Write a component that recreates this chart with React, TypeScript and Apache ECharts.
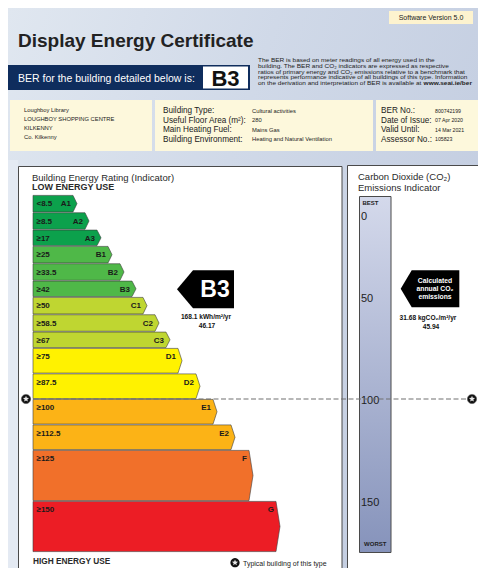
import React, { useEffect, useRef } from 'react';
import * as echarts from 'echarts';

const FONT = '"Liberation Sans", Arial, "DejaVu Sans", sans-serif';

// ---- Data ----
const bandNames = ['A1', 'A2', 'A3', 'B1', 'B2', 'B3', 'C1', 'C2', 'C3', 'D1', 'D2', 'E1', 'E2', 'F', 'G'];
const bandLower = [0, 8.5, 17, 25, 33.5, 42, 50, 58.5, 67, 75, 87.5, 100, 112.5, 125, 150];
const bandUpper = [8.5, 17, 25, 33.5, 42, 50, 58.5, 67, 75, 87.5, 100, 112.5, 125, 150, 175];
const bandLabels = ['<8.5', '≥8.5', '≥17', '≥25', '≥33.5', '≥42', '≥50', '≥58.5', '≥67', '≥75', '≥87.5', '≥100', '≥112.5', '≥125', '≥150'];
const bandLength = [40, 52, 64, 75, 87, 99, 110, 122, 133, 145, 163, 180, 198, 216, 243];
const bandColors = [
  '#0ca14c', '#0ca14c', '#0ca14c',
  '#4fb848', '#4fb848', '#4fb848',
  '#bfd631', '#bfd631', '#bfd631',
  '#fff200', '#fff200',
  '#fcb316', '#fcb316',
  '#f1702a', '#ec1d25',
];

const berRating = 'B3';
const berValue = 46.17;
const berEnergy = '168.1 kWh/m²/yr';
const co2Value = 45.94;
const co2Emission = '31.68 kgCO₂/m²/yr';
const typicalValue = 100;
const co2Ticks = [0, 50, 100, 150];
const scaleMax = 175;

const addressLines = ['Loughboy Library', 'LOUGHBOY SHOPPING CENTRE', 'KILKENNY', 'Co. Kilkenny'];
const buildingLabels = ['Building Type:', 'Useful Floor Area (m²):', 'Main Heating Fuel:', 'Building Environment:'];
const buildingValues = ['Cultural activities', '280', 'Mains Gas', 'Heating and Natural Ventilation'];
const certLabels = ['BER No.:', 'Date of Issue:', 'Valid Until:', 'Assessor No.:'];
const certValues = ['800742199', '07 Apr 2020', '14 Mar 2021', '105823'];
const blurbLines = [
  'The BER is based on meter readings of all energy used in the',
  'building. The BER and CO₂ indicators are expressed as respective',
  'ratios of primary energy and CO₂ emissions relative to a benchmark that',
  'represents performance indicative of all buildings of this type. Information',
  'on the derivation and interpretation of BER is available at {b|www.seai.ie/ber}',
];

function starPoints(cx: number, cy: number, ro: number, ri: number) {
  const pts: number[][] = [];
  for (let k = 0; k < 10; k++) {
    const r = k % 2 === 0 ? ro : ri;
    const a = -Math.PI / 2 + (k * Math.PI) / 5;
    pts.push([cx + r * Math.cos(a), cy + r * Math.sin(a)]);
  }
  return pts;
}

function starMarker(cx: number, cy: number) {
  return [
    { type: 'circle', shape: { cx, cy, r: 4.6 }, style: { fill: '#111', stroke: '#555', lineWidth: 0.6 } },
    { type: 'polygon', shape: { points: starPoints(cx, cy, 3.2, 1.4) }, style: { fill: '#e8e8e8' } },
  ];
}

function txt(x: number, y: number, text: string, font: string, fill = '#222', align = 'left', extra: any = {}) {
  return {
    type: 'text',
    z: 1,
    style: { text, x, y, font, fill, textAlign: align, textVerticalAlign: 'middle', ...extra },
  };
}

export default function App() {
  const ref = useRef<HTMLDivElement>(null);
  useEffect(() => {
    const chart = echarts.init(ref.current!, null, { renderer: 'svg' });

    const graphic: any[] = [];
    graphic.push({
      type: 'rect', z: 0,
      shape: { x: 8, y: 8, width: 470, height: 560 },
      style: {
        fill: new echarts.graphic.LinearGradient(0, 0, 1, 0.4, [
          { offset: 0, color: '#e0e7f0' },
          { offset: 0.5, color: '#d0d9e8' },
          { offset: 1, color: '#c4cee1' },
        ]),
      },
    });
    graphic.push({ type: 'rect', z: 0, shape: { x: 8, y: 160, width: 10, height: 408 }, style: { fill: '#e4eaf3' } });
    // software version
    graphic.push({ type: 'rect', z: 1, shape: { x: 389, y: 11, width: 84, height: 13 }, style: { fill: '#fdf3cf' } });
    graphic.push(txt(431, 17.5, 'Software Version 5.0', `7px ${FONT}`, '#222', 'center'));
    // title
    graphic.push(txt(18, 40, 'Display Energy Certificate', `bold 19px ${FONT}`, '#222'));
    // navy bar
    graphic.push({ type: 'rect', z: 1, shape: { x: 8, y: 65, width: 242, height: 25 }, style: { fill: '#0f2d5d' } });
    graphic.push({ type: 'rect', z: 1, shape: { x: 203, y: 66.5, width: 45, height: 22 }, style: { fill: '#ffffff' } });
    graphic.push(txt(18, 78, 'BER for the building detailed below is:', `10.5px ${FONT}`, '#ffffff'));
    graphic.push(txt(225.5, 78, berRating, `bold 22px ${FONT}`, '#111', 'center'));
    blurbLines.forEach((l, i) => {
      graphic.push({
        type: 'text', z: 1,
        x: 258, y: 60.5 + i * 5.6, scaleX: 1.18,
        style: {
          text: l, x: 0, y: 0, font: `5.5px ${FONT}`, fill: '#222', textAlign: 'left', textVerticalAlign: 'middle',
          rich: { b: { font: `bold 5.5px ${FONT}`, fill: '#222' } },
        },
      });
    });
    // info boxes
    graphic.push({ type: 'rect', z: 1, shape: { x: 10, y: 100, width: 142, height: 51 }, style: { fill: '#fdf8dc' } });
    graphic.push({ type: 'rect', z: 1, shape: { x: 155, y: 100, width: 218, height: 51 }, style: { fill: '#fdf8dc' } });
    graphic.push({ type: 'rect', z: 1, shape: { x: 376, y: 100, width: 102, height: 51 }, style: { fill: '#fdf8dc' } });
    addressLines.forEach((l, i) => graphic.push(txt(24, 110 + i * 9, l, `5.8px ${FONT}`, '#222')));
    buildingLabels.forEach((l, i) => {
      graphic.push(txt(163, 110.5 + i * 9.6, l, `8.2px ${FONT}`, '#222'));
      graphic.push(txt(252, 110.5 + i * 9.6, buildingValues[i], `5.8px ${FONT}`, '#222'));
    });
    certLabels.forEach((l, i) => {
      graphic.push(txt(381, 110.5 + i * 9.6, l, `8.2px ${FONT}`, '#222'));
      graphic.push(txt(435, 110.5 + i * 9.6, certValues[i], `5.2px ${FONT}`, '#222'));
    });
    // panels
    graphic.push({ type: 'rect', z: 1, shape: { x: 18.5, y: 166.5, width: 323.5, height: 420 }, style: { fill: '#ffffff', stroke: '#4a4a4a', lineWidth: 1 } });
    graphic.push({ type: 'rect', z: 1, shape: { x: 347.5, y: 165.5, width: 140, height: 420 }, style: { fill: '#ffffff', stroke: '#4a4a4a', lineWidth: 1 } });
    graphic.push(txt(32, 177, 'Building Energy Rating (Indicator)', `9.5px ${FONT}`, '#2a2a2a'));
    graphic.push(txt(32, 187, 'LOW ENERGY USE', `bold 9px ${FONT}`, '#2a2a2a'));
    graphic.push(txt(33, 561, 'HIGH ENERGY USE', `bold 8.3px ${FONT}`, '#2a2a2a'));
    graphic.push(txt(243, 563, 'Typical building of this type', `7px ${FONT}`, '#222'));
    graphic.push({ type: 'circle', z: 2, shape: { cx: 235, cy: 562.7, r: 4.6 }, style: { fill: '#111' } });
    graphic.push({ type: 'polygon', z: 3, shape: { points: starPoints(235, 562.7, 3.2, 1.4) }, style: { fill: '#e8e8e8' } });
    graphic.push(txt(358, 176, 'Carbon Dioxide (CO₂)', `9.5px ${FONT}`, '#2a2a2a'));
    graphic.push(txt(358, 187, 'Emissions Indicator', `9.5px ${FONT}`, '#2a2a2a'));

    const option: any = {
      animation: false,
      graphic: { elements: graphic },
      grid: [
        { left: 33, top: 195, width: 300, height: 357 },
        { left: 359.5, top: 195, width: 31.5, height: 357 },
      ],
      xAxis: [
        { gridIndex: 0, type: 'value', min: 0, max: 300, show: false },
        { gridIndex: 1, type: 'value', min: 0, max: 1, show: false },
      ],
      yAxis: [
        { gridIndex: 0, type: 'value', min: 0, max: scaleMax, inverse: true, show: false },
        { gridIndex: 1, type: 'value', min: 0, max: scaleMax, inverse: true, show: false },
      ],
      series: [
        {
          type: 'custom', xAxisIndex: 0, yAxisIndex: 0, z: 5, clip: false,
          data: bandNames.map((_, i) => [bandLength[i], bandLower[i], bandUpper[i], i]),
          encode: { x: 0, y: [1, 2] },
          renderItem: (_p: any, api: any) => {
            const i = api.value(3);
            const p0 = api.coord([0, api.value(1)]);
            const p1 = api.coord([api.value(0), api.value(2)]);
            const x0 = p0[0], y0 = p0[1], x1 = p1[0], y1 = p1[1];
            const ym = (y0 + y1) / 2;
            return {
              type: 'group',
              children: [
                {
                  type: 'polygon',
                  shape: { points: [[x0, y0 + 0.4], [x1, y0 + 0.4], [x1 + 4, ym], [x1, y1 - 0.4], [x0, y1 - 0.4]] },
                  style: { fill: bandColors[i], stroke: '#3c3c3c', lineWidth: 0.6 },
                },
                {
                  type: 'text',
                  style: { text: bandLabels[i], x: x0 + 3.5, y: y0 + 8.7, font: `bold 8px ${FONT}`, fill: '#1a1a1a', textAlign: 'left', textVerticalAlign: 'middle' },
                },
                {
                  type: 'text',
                  style: { text: bandNames[i], x: x1 - 2, y: y0 + 8.7, font: `bold 8px ${FONT}`, fill: '#1a1a1a', textAlign: 'right', textVerticalAlign: 'middle' },
                },
              ],
            };
          },
        },
        {
          type: 'custom', xAxisIndex: 0, yAxisIndex: 0, z: 5, clip: false,
          data: [[0, berValue]],
          encode: { x: 0, y: 1 },
          renderItem: (_p: any, api: any) => {
            const y = api.coord([0, api.value(1)])[1];
            return {
              type: 'group',
              children: [
                { type: 'polygon', shape: { points: [[177, y], [193, y - 19], [234, y - 19], [234, y + 19], [193, y + 19]] }, style: { fill: '#000' } },
                { type: 'text', style: { text: berRating, x: 215, y: y, font: `bold 23px ${FONT}`, fill: '#fff', textAlign: 'center', textVerticalAlign: 'middle' } },
                { type: 'text', style: { text: berEnergy, x: 206, y: y + 27.5, font: `bold 6.6px ${FONT}`, fill: '#111', textAlign: 'center', textVerticalAlign: 'middle' } },
                { type: 'text', style: { text: String(berValue), x: 207, y: y + 36.5, font: `bold 6.6px ${FONT}`, fill: '#111', textAlign: 'center', textVerticalAlign: 'middle' } },
              ],
            };
          },
        },
        {
          type: 'custom', xAxisIndex: 1, yAxisIndex: 1, z: 4, clip: false,
          data: [[0, 0, scaleMax]],
          encode: { x: 0, y: [1, 2] },
          renderItem: (_p: any, api: any) => {
            const p0 = api.coord([0, api.value(1)]);
            const p1 = api.coord([1, api.value(2)]);
            return {
              type: 'group',
              children: [
                {
                  type: 'rect',
                  shape: { x: p0[0], y: p0[1] + 1.5, width: p1[0] - p0[0], height: p1[1] - p0[1] - 1 },
                  style: {
                    fill: new echarts.graphic.LinearGradient(0, 0, 0, 1, [
                      { offset: 0, color: '#d4d9eb' },
                      { offset: 1, color: '#8693bb' },
                    ]),
                    stroke: '#4a4a4a', lineWidth: 1,
                  },
                },
                { type: 'text', style: { text: 'BEST', x: p0[0] + 3, y: p0[1] + 8, font: `bold 6px ${FONT}`, fill: '#222', textAlign: 'left', textVerticalAlign: 'middle' } },
                { type: 'text', style: { text: 'WORST', x: (p0[0] + p1[0]) / 2, y: p1[1] - 8.5, font: `bold 6px ${FONT}`, fill: '#222', textAlign: 'center', textVerticalAlign: 'middle' } },
              ],
            };
          },
        },
        {
          type: 'custom', xAxisIndex: 1, yAxisIndex: 1, z: 5, clip: false,
          data: co2Ticks.map((v) => [0, v]),
          encode: { x: 0, y: 1 },
          renderItem: (_p: any, api: any) => {
            const v = api.value(1);
            const pt = api.coord([0, v]);
            return {
              type: 'text',
              style: { text: String(v), x: pt[0] + 1.5, y: pt[1] + (v === 0 ? 21 : 0.5), font: `11px ${FONT}`, fill: '#222', textAlign: 'left', textVerticalAlign: 'middle' },
            };
          },
        },
        {
          type: 'custom', xAxisIndex: 1, yAxisIndex: 1, z: 5, clip: false,
          data: [[0, co2Value]],
          encode: { x: 0, y: 1 },
          renderItem: (_p: any, api: any) => {
            const y = api.coord([0, api.value(1)])[1];
            const wf = `bold 6.8px ${FONT}`;
            return {
              type: 'group',
              children: [
                { type: 'polygon', shape: { points: [[400.7, y], [411.7, y - 18.5], [459.3, y - 18.5], [459.3, y + 18.5], [411.7, y + 18.5]] }, style: { fill: '#000' } },
                { type: 'text', style: { text: 'Calculated', x: 435, y: y - 8.3, font: wf, fill: '#fff', textAlign: 'center', textVerticalAlign: 'middle' } },
                { type: 'text', style: { text: 'annual CO₂', x: 435, y: y - 0.3, font: wf, fill: '#fff', textAlign: 'center', textVerticalAlign: 'middle' } },
                { type: 'text', style: { text: 'emissions', x: 435, y: y + 7.7, font: wf, fill: '#fff', textAlign: 'center', textVerticalAlign: 'middle' } },
                { type: 'text', style: { text: co2Emission, x: 428, y: y + 28.4, font: `bold 6.6px ${FONT}`, fill: '#111', textAlign: 'center', textVerticalAlign: 'middle' } },
                { type: 'text', style: { text: String(co2Value), x: 431, y: y + 37.4, font: `bold 6.6px ${FONT}`, fill: '#111', textAlign: 'center', textVerticalAlign: 'middle' } },
              ],
            };
          },
        },
        {
          type: 'custom', xAxisIndex: 0, yAxisIndex: 0, z: 8, clip: false,
          data: [[0, typicalValue]],
          encode: { x: 0, y: 1 },
          renderItem: (_p: any, api: any) => {
            const y = api.coord([0, api.value(1)])[1];
            return {
              type: 'group',
              children: [
                { type: 'line', shape: { x1: 26, y1: y, x2: 472, y2: y }, style: { stroke: '#707070', lineWidth: 1.2, lineDash: [5, 2.5] } },
                ...starMarker(26, y),
                ...starMarker(472, y),
              ],
            };
          },
        },
      ],
    };
    chart.setOption(option);
    return () => chart.dispose();
  }, []);
  return <div ref={ref} style={{ position: 'absolute', left: 0, top: 0, width: 478, height: 568 }} />;
}
